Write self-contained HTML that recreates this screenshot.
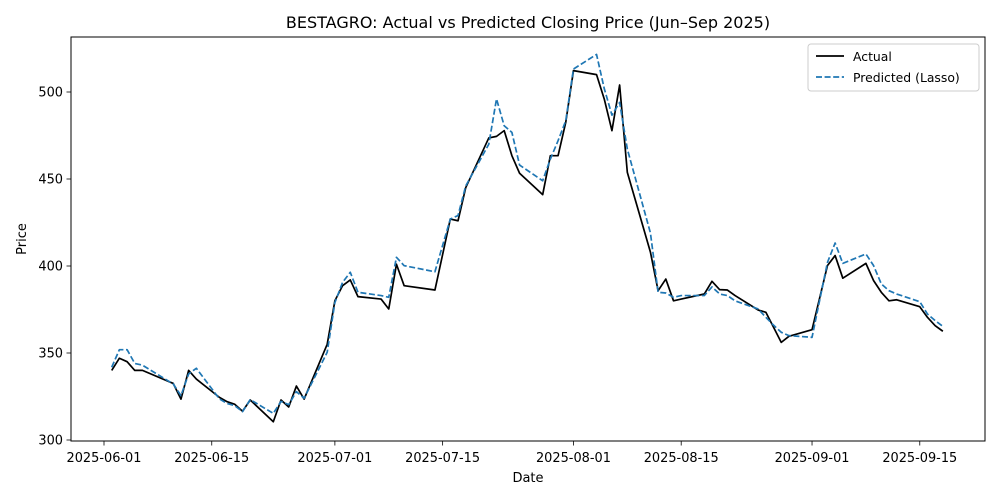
<!DOCTYPE html>
<html><head><meta charset="utf-8"><style>
html,body{margin:0;padding:0;background:#fff}
svg{display:block;font-family:"DejaVu Sans","Liberation Sans",sans-serif}
</style></head><body>
<svg id="chart" width="1000" height="500" viewBox="0 0 1000 500">
<rect width="1000" height="500" fill="#fff"/>
<text x="528" y="28" text-anchor="middle" font-size="16" fill="#000">BESTAGRO: Actual vs Predicted Closing Price (Jun–Sep 2025)</text>
<g id="grid"></g>
<g id="series"></g>
<rect x="71" y="37" width="914" height="404" fill="none" stroke="#000" stroke-width="1"/>
<g id="xaxis"></g>
<g id="yaxis"></g>
<text x="528" y="482" text-anchor="middle" font-size="13">Date</text>
<text x="26" y="239" text-anchor="middle" font-size="13" transform="rotate(-90 26 239)">Price</text>
<g>
<rect x="808" y="44" width="171" height="47" rx="3" fill="#fff" stroke="#ccc"/>
<line x1="816" y1="56" x2="844" y2="56" stroke="#000" stroke-width="1.7"/>
<text x="853" y="61" font-size="12.4">Actual</text>
<line x1="816" y1="77" x2="844" y2="77" stroke="#1f77b4" stroke-width="1.7" stroke-dasharray="6,2.6"/>
<text x="853" y="82" font-size="12.4">Predicted (Lasso)</text>
</g>
</svg>
<script>
const dates = ["2025-06-02","2025-06-03","2025-06-04","2025-06-05","2025-06-06","2025-06-10","2025-06-11","2025-06-12","2025-06-13","2025-06-16","2025-06-17","2025-06-18","2025-06-19","2025-06-20","2025-06-23","2025-06-24","2025-06-25","2025-06-26","2025-06-27","2025-06-30","2025-07-01","2025-07-02","2025-07-03","2025-07-04","2025-07-07","2025-07-08","2025-07-09","2025-07-10","2025-07-14","2025-07-16","2025-07-17","2025-07-18","2025-07-21","2025-07-22","2025-07-23","2025-07-24","2025-07-25","2025-07-28","2025-07-29","2025-07-30","2025-07-31","2025-08-01","2025-08-04","2025-08-05","2025-08-06","2025-08-07","2025-08-08","2025-08-11","2025-08-12","2025-08-13","2025-08-14","2025-08-15","2025-08-18","2025-08-19","2025-08-20","2025-08-21","2025-08-22","2025-08-25","2025-08-26","2025-08-27","2025-08-28","2025-08-29","2025-09-01","2025-09-03","2025-09-04","2025-09-05","2025-09-08","2025-09-09","2025-09-10","2025-09-11","2025-09-12","2025-09-15","2025-09-16","2025-09-17","2025-09-18"];
const actual = [340,347,345,340,340,332.5,323.5,340,335,324.5,322,320.5,316.5,323,310.5,323,319,331,323.5,355,380,388.7,392,382.4,381,375.3,401,388.7,386.2,427,426,445,473.6,474.5,477.8,463.4,453.3,441,463.4,463.4,482.6,512.3,510,496,477.8,504,453.8,408,385.8,392.5,380,381,383.9,391.2,386.4,386.2,383,374.7,373.4,364.8,356.1,359.6,363.4,400.2,406,393,401.5,391.6,384.9,380,380.6,376.6,370.5,365.7,362.5];
const predicted = [341.8,351.9,351.9,344,343,332.2,325.5,338,341.2,323.6,321,319.7,316.3,323.2,315.3,322.2,320.3,327.8,324,350.4,379,390.6,396.4,384.9,383,382,405,400.2,396.7,427,429,446,470,496,480.6,476.8,458,449,461.5,472,483.5,513.2,521.6,502,486.7,494,467.2,419,384.9,384.5,382,383,383,388,383.9,383,380,375.3,370.5,366,361.9,360,359,402,413.2,401.5,406.9,400.2,389.7,385.8,383.9,379.5,372.4,368.6,365.3];
const yTicks = [300,350,400,450,500];
const xTickLabels = ["2025-06-01","2025-06-15","2025-07-01","2025-07-15","2025-08-01","2025-08-15","2025-09-01","2025-09-15"];

const NS = "http://www.w3.org/2000/svg";
const origin = Date.UTC(2025,5,1);
function dayOf(s){const p=s.split("-");return (Date.UTC(+p[0],+p[1]-1,+p[2])-origin)/86400000;}
function xScale(s){return 104 + dayOf(s)*7.696;}
function yScale(v){return 440 - (v-300)*1.74;}
function mk(tag, attrs, parent){const e=document.createElementNS(NS,tag);for(const k in attrs)e.setAttribute(k,attrs[k]);parent.appendChild(e);return e;}

const xg=document.getElementById("xaxis"), yg=document.getElementById("yaxis"), sg=document.getElementById("series");
xTickLabels.forEach(d=>{
  const x=xScale(d);
  const t=mk("line",{x1:x,x2:x,y1:441,y2:445.5,stroke:"#000","stroke-width":0.8},xg);
  
  
  const l=mk("text",{x:x,y:462,"text-anchor":"middle","font-size":12.9},xg);
  l.textContent=d;
  
  
});
yTicks.forEach(v=>{
  const y=yScale(v);
  const t=mk("line",{x1:66.5,x2:71,y1:y,y2:y,stroke:"#000","stroke-width":0.8},yg);
  
  
  const l=mk("text",{x:63,y:y+4.5,"text-anchor":"end","font-size":12.9},yg);
  l.textContent=v;
  
  
});
function pts(arr){return dates.map((d,i)=>xScale(d).toFixed(2)+","+yScale(arr[i]).toFixed(2)).join(" ");}
const la=mk("polyline",{points:pts(actual),fill:"none",stroke:"#000","stroke-width":1.7,"stroke-linejoin":"round"},sg);


const lp=mk("polyline",{points:pts(predicted),fill:"none",stroke:"#1f77b4","stroke-width":1.7,"stroke-dasharray":"6,2.6","stroke-linejoin":"round"},sg);


</script>
</body></html>
